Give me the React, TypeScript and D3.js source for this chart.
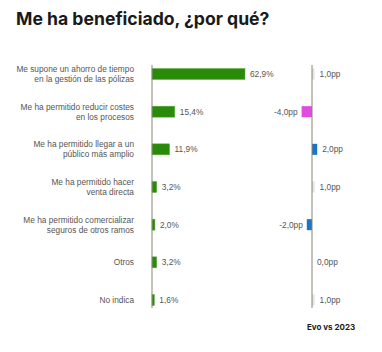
import React from "react";
import * as d3 from "d3";

const categories: string[][] = [
  ["Me supone un ahorro de tiempo", "en la gestión de las pólizas"],
  ["Me ha permitido reducir costes", "en los procesos"],
  ["Me ha permitido llegar a un", "público más amplio"],
  ["Me ha permitido hacer", "venta directa"],
  ["Me ha permitido comercializar", "seguros de otros ramos"],
  ["Otros"],
  ["No indica"],
];
const shares: number[] = [62.9, 15.4, 11.9, 3.2, 2.0, 3.2, 1.6];
const deltas: number[] = [1.0, -4.0, 2.0, 1.0, -2.0, 0.0, 1.0];
const title = "Me ha beneficiado, ¿por qué?";
const deltaTitle = "Evo vs 2023";

const W = 382;
const H = 352;
const fmt = (v: number, d = 1) => v.toFixed(d).replace(".", ",");

export default function App() {
  const keys = categories.map((c) => c.join(" "));
  const y = d3.scalePoint<string>().domain(keys).range([74, 300]);
  const x = d3.scaleLinear().domain([0, 62.9]).range([152, 245]);
  const dx = d3.scaleLinear().domain([-4, 4]).range([312 - 10.4, 312 + 10.4]);
  const dColor = d3
    .scaleThreshold<number, string>()
    .domain([1.5, 3])
    .range(["#e4e4e4", "#1c74c4", "#e04ce0"]);
  const barH = 11;
  const labelFont = "'Liberation Sans', Arial, sans-serif";

  return (
    <svg
      width={W}
      height={H}
      style={{ position: "absolute", left: 0, top: 0, background: "#fff" }}
    >
      <text
        x={16}
        y={25}
        fontFamily="Inter, 'Liberation Sans', sans-serif"
        fontWeight={700}
        fontSize={17.6}
        fill="#1a1a1a"
      >
        {title}
      </text>

      {categories.map((lines, i) => {
        const cy = y(keys[i])!;
        const lh = 10;
        const start = cy - ((lines.length - 1) * lh) / 2;
        return (
          <text
            key={"c" + i}
            x={134}
            textAnchor="end"
            fontFamily={labelFont}
            fontSize={8.3}
            fill="#555"
          >
            {lines.map((l, j) => (
              <tspan key={j} x={134} y={start + j * lh} dy="0.35em">
                {l}
              </tspan>
            ))}
          </text>
        );
      })}

      {shares.map((v, i) => {
        const cy = y(keys[i])!;
        return (
          <g key={"b" + i}>
            <rect
              x={x(0)}
              y={cy - barH / 2}
              width={x(v) - x(0)}
              height={barH}
              fill="#2a8a0a"
              stroke="#5fb040"
              strokeWidth={0.5}
            />
            <text
              x={x(v) + 5}
              y={cy}
              dy="0.35em"
              fontFamily={labelFont}
              fontSize={8.3}
              fill="#555"
            >
              {fmt(v)}%
            </text>
          </g>
        );
      })}

      {deltas.map((v, i) => {
        const cy = y(keys[i])!;
        const x0 = dx(Math.min(0, v));
        const x1 = dx(Math.max(0, v));
        return (
          <g key={"d" + i}>
            {v !== 0 && (
              <rect
                x={x0}
                y={cy - barH / 2}
                width={x1 - x0}
                height={barH}
                fill={dColor(Math.abs(v))}
              />
            )}
            <text
              x={v < 0 ? x0 - 4 : x1 + 5}
              y={cy}
              dy="0.35em"
              textAnchor={v < 0 ? "end" : "start"}
              fontFamily={labelFont}
              fontSize={8.3}
              fill="#555"
            >
              {fmt(v)}pp
            </text>
          </g>
        );
      })}

      <line x1={x(0)} x2={x(0)} y1={65} y2={308} stroke="#8a8276" strokeWidth={1} />
      <line x1={dx(0)} x2={dx(0)} y1={65} y2={308} stroke="#8a8276" strokeWidth={1} />

      <text
        x={307}
        y={330}
        fontFamily="Inter, 'Liberation Sans', sans-serif"
        fontWeight={700}
        fontSize={8}
        fill="#1a1a1a"
      >
        {deltaTitle}
      </text>
    </svg>
  );
}
